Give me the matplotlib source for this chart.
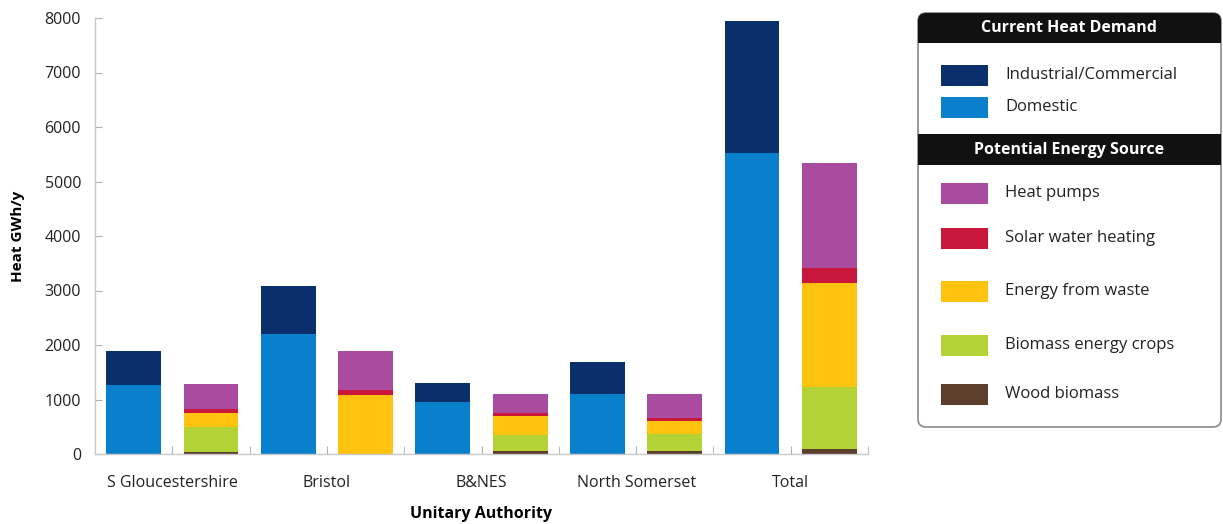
import matplotlib.pyplot as plt
from matplotlib.patches import Rectangle, FancyBboxPatch

plt.rcParams['font.family'] = ['Open Sans', 'DejaVu Sans']

authorities = ['S Gloucestershire', 'Bristol', 'B&NES', 'North Somerset', 'Total']

# current heat demand, GWh/y
domestic = [1266, 2202, 960, 1101, 5528]
industrial = [624, 881, 348, 587, 2422]

# potential energy sources, GWh/y
wood_biomass = [42, 0, 55, 55, 86]
biomass_crops = [459, 0, 294, 306, 1149]
energy_from_waste = [246, 1083, 348, 245, 1897]
solar_water = [80, 90, 50, 60, 275]
heat_pumps = [458, 721, 348, 429, 1938]

demand_series = [('Industrial/Commercial', industrial, '#0b2f6a'),
                 ('Domestic', domestic, '#0a80cc')]
source_series = [('Heat pumps', heat_pumps, '#a94c9f'),
                 ('Solar water heating', solar_water, '#c9173b'),
                 ('Energy from waste', energy_from_waste, '#ffc30f'),
                 ('Biomass energy crops', biomass_crops, '#b2d236'),
                 ('Wood biomass', wood_biomass, '#5b3f2c')]

fig = plt.figure(figsize=(12.23, 5.24), dpi=100)
ax = fig.add_axes([95 / 1223, 70 / 524, 773 / 1223, 436 / 524])

n = len(authorities)
demand_x = [2 * i for i in range(n)]
source_x = [2 * i + 1 for i in range(n)]
w = 0.71

# demand bars: domestic at the bottom, industrial on top
ax.bar(demand_x, domestic, w, color=demand_series[1][2], linewidth=0)
ax.bar(demand_x, industrial, w, bottom=domestic, color=demand_series[0][2], linewidth=0)

# source bars stacked from wood biomass upwards
bottom = [0] * n
for name, vals, col in reversed(source_series):
    ax.bar(source_x, vals, w, bottom=bottom, color=col, linewidth=0)
    bottom = [b + v for b, v in zip(bottom, vals)]

ax.set_xlim(-0.5, 2 * n - 0.5)
ax.set_ylim(0, 8000)
ax.set_yticks(range(0, 8001, 1000))
ax.set_xticks([2 * i + 0.5 for i in range(n)])
ax.set_xticklabels(authorities)
ax.set_xticks([i + 0.5 for i in range(2 * n)], minor=True)

for s in ['top', 'right']:
    ax.spines[s].set_visible(False)
for s in ['left', 'bottom']:
    ax.spines[s].set_color('#c8c8c8')
    ax.spines[s].set_linewidth(1)

ax.tick_params(axis='both', which='both', direction='in', color='#b0b0b0', labelsize=11.5,
               labelcolor='#222222')
ax.tick_params(axis='x', which='major', length=6, pad=15)
ax.tick_params(axis='x', which='minor', length=6)
ax.tick_params(axis='y', length=5, pad=10)

ax.set_ylabel('Heat GWh/y', fontsize=11, fontweight='bold', labelpad=14)
ax.set_xlabel('Unitary Authority', fontsize=11.5, fontweight='bold', labelpad=11)

# legend panel
lg = fig.add_axes([917 / 1223, 96 / 524, 305 / 1223, 416 / 524])
lg.set_xlim(0, 305)
lg.set_ylim(416, 0)
lg.axis('off')

frame = FancyBboxPatch((1, 1), 303, 414, boxstyle='round,pad=0,rounding_size=8',
                       facecolor='white', edgecolor='#8a8a8a', linewidth=1.2)
lg.add_patch(frame)

headers = [('Current Heat Demand', 0), ('Potential Energy Source', 122)]
for title, y0 in headers:
    hdr = Rectangle((0, y0), 305, 31, facecolor='#111111', edgecolor='none')
    lg.add_patch(hdr)
    hdr.set_clip_path(frame)
    lg.text(152, y0 + 16, title, color='white', fontsize=11.5, fontweight='bold',
            ha='center', va='center')

item_y = [63, 95, 181, 226, 279, 333, 382]
items = demand_series + source_series
for (name, vals, col), y in zip(items, item_y):
    lg.add_patch(Rectangle((24, y - 10.5), 47, 21, facecolor=col, edgecolor='none'))
    lg.text(88, y, name, fontsize=12, color='#222222', va='center', ha='left')

plt.savefig('out.png', dpi=100)
